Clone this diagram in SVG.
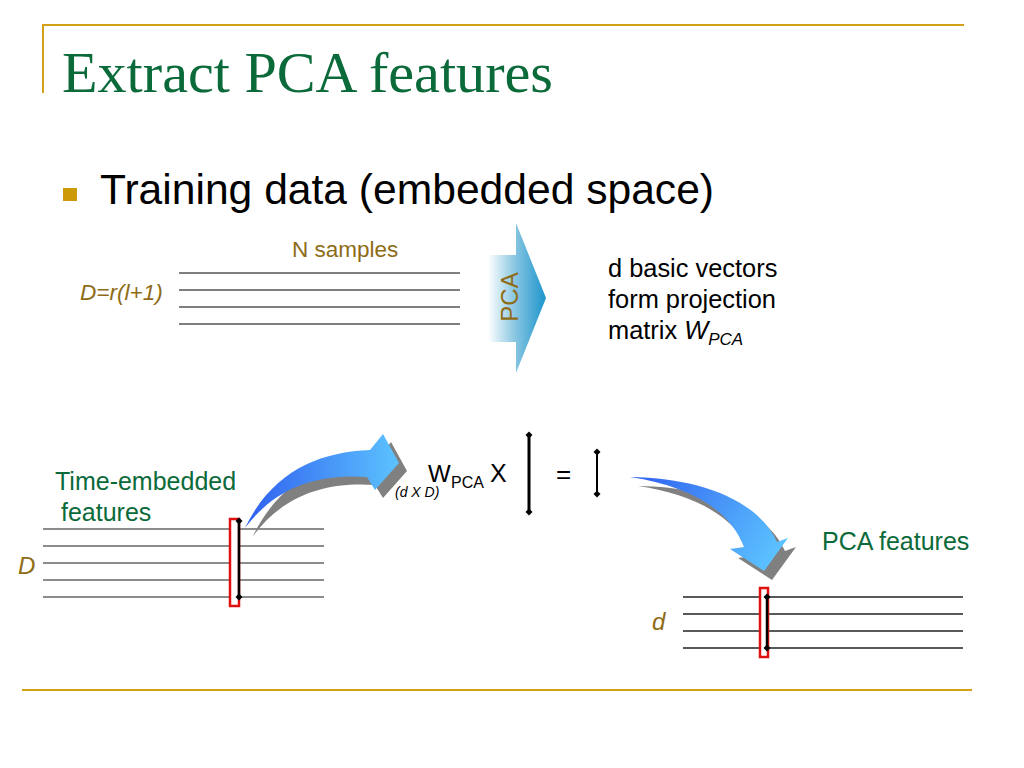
<svg xmlns="http://www.w3.org/2000/svg" width="1024" height="768" viewBox="0 0 1024 768">
<defs>
<style>
.sans{font-family:"Liberation Sans",Arial,sans-serif}
.olive{fill:#8E6C17}
.green{fill:#0B6A3A}
.gold{stroke:#D4A017;stroke-width:2;fill:none}
.ln1{stroke:#555;stroke-width:1.5}
.ln2{stroke:#666;stroke-width:1.5}
.ln3{stroke:#222;stroke-width:1.3}
.vec{stroke:#000;fill:none;marker-start:url(#dia);marker-end:url(#dia)}
.sel{fill:#fff;stroke:#E01010;stroke-width:2.5}
</style>
<marker id="dia" viewBox="-4 -4 8 8" markerWidth="8" markerHeight="8" markerUnits="userSpaceOnUse" orient="0">
<path d="M0 -3.5 L3.5 0 L0 3.5 L-3.5 0 Z" fill="#000"/>
</marker>
<linearGradient id="pcaG" gradientUnits="userSpaceOnUse" x1="488" y1="0" x2="546" y2="0">
<stop offset="0" stop-color="#ffffff"/>
<stop offset="0.45" stop-color="#8cc8e2"/>
<stop offset="1" stop-color="#1c94cc"/>
</linearGradient>
<linearGradient id="blue1" gradientUnits="userSpaceOnUse" x1="245" y1="0" x2="398" y2="0">
<stop offset="0" stop-color="#2F5FEF"/>
<stop offset="1" stop-color="#5CC2FF"/>
</linearGradient>
<linearGradient id="blue2" gradientUnits="userSpaceOnUse" x1="630" y1="477" x2="770" y2="565">
<stop offset="0" stop-color="#2F5FEF"/>
<stop offset="1" stop-color="#5CC2FF"/>
</linearGradient>
</defs>
<rect width="1024" height="768" fill="#fff"/>

<g id="frame">
<line class="gold" x1="42" y1="25" x2="964" y2="25"/>
<line class="gold" x1="43" y1="25" x2="43" y2="93"/>
<line class="gold" x1="22" y1="690" x2="972" y2="690"/>
</g>

<g id="title">
<text x="62" y="92" font-family="'Liberation Serif','Times New Roman',serif" font-size="57" fill="#0B6A3A" textLength="491" lengthAdjust="spacingAndGlyphs">Extract PCA features</text>
</g>

<g id="bullet">
<rect x="63" y="188" width="14" height="13" fill="#CC9A06"/>
<text class="sans" x="100" y="204" font-size="42.6" fill="#000">Training data (embedded space)</text>
</g>

<g id="training-matrix">
<text class="sans olive" x="292" y="257" font-size="22.5">N samples</text>
<text class="sans olive" x="80" y="300" font-size="22.6" font-style="italic">D=r(l+1)</text>
<line class="ln1" x1="179" y1="273" x2="460" y2="273"/>
<line class="ln1" x1="179" y1="290" x2="460" y2="290"/>
<line class="ln1" x1="179" y1="307" x2="460" y2="307"/>
<line class="ln1" x1="179" y1="324" x2="460" y2="324"/>
</g>

<g id="pca-arrow">
<path d="M488 255 L516 255 L516 223 L546 298 L516 373 L516 342 L488 342 Z" fill="url(#pcaG)"/>
<text class="sans olive" x="0" y="0" font-size="24" text-anchor="middle" transform="translate(518 297) rotate(-90)">PCA</text>
</g>

<g id="projection-text">
<text class="sans" x="608" y="277" font-size="25.4" fill="#000">d basic vectors</text>
<text class="sans" x="608" y="308" font-size="25.4" fill="#000">form projection</text>
<text class="sans" x="608" y="339" font-size="25.4" fill="#000">matrix <tspan font-style="italic">W</tspan><tspan font-style="italic" font-size="17" dy="6">PCA</tspan></text>
</g>

<g id="time-embedded">
<text class="sans green" x="55" y="490" font-size="25">Time-embedded</text>
<text class="sans green" x="61" y="521" font-size="25">features</text>
<text class="sans olive" x="18" y="574" font-size="24" font-style="italic">D</text>
<line class="ln2" x1="43" y1="529" x2="324" y2="529"/>
<line class="ln2" x1="43" y1="546" x2="324" y2="546"/>
<line class="ln2" x1="43" y1="563" x2="324" y2="563"/>
<line class="ln2" x1="43" y1="580" x2="324" y2="580"/>
<line class="ln2" x1="43" y1="597" x2="324" y2="597"/>
<rect class="sel" x="230" y="519" width="9" height="87"/>
<line class="vec" x1="239" y1="521" x2="239" y2="597" stroke-width="2.5"/>
</g>

<g id="equation">
<text class="sans" x="395" y="497" font-size="14" font-style="italic" fill="#000">(d X D)</text>
<text class="sans" x="428" y="482" font-size="24" fill="#000">W</text>
<text class="sans" x="451" y="488" font-size="16" fill="#000">PCA</text>
<text class="sans" x="490" y="482" font-size="25" fill="#000">X</text>
<line class="vec" x1="529" y1="435" x2="529" y2="512" stroke-width="3"/>
<text class="sans" x="556" y="483" font-size="26" fill="#000">=</text>
<line class="vec" x1="597" y1="452" x2="597" y2="494" stroke-width="2"/>
</g>

<g id="pca-features">
<text class="sans green" x="822" y="550" font-size="25">PCA features</text>
<text class="sans olive" x="652" y="630" font-size="24" font-style="italic">d</text>
<line class="ln3" x1="683" y1="597" x2="963" y2="597"/>
<line class="ln3" x1="683" y1="614" x2="963" y2="614"/>
<line class="ln3" x1="683" y1="631" x2="963" y2="631"/>
<line class="ln3" x1="683" y1="648" x2="963" y2="648"/>
<rect class="sel" x="760" y="588" width="8" height="69"/>
<line class="vec" x1="767" y1="597" x2="767" y2="648" stroke-width="2.5"/>
</g>

<g id="connectors">
<g id="arrow-in">
<path transform="translate(8 8)" d="M245 528 C272 472 318 452 370 450 L383 434 L399 463 L375 490 L367 477 C322 474 278 484 245 528 Z" fill="#808080"/>
<path d="M245 528 C272 472 318 452 370 450 L383 434 L399 463 L375 490 L367 477 C322 474 278 484 245 528 Z" fill="url(#blue1)"/>
</g>
<g id="arrow-out">
<path transform="translate(8 9)" d="M630 477 C700 478 758 500 777 542 L788 538 L764 571 L730 549 L744 547 C730 510 690 486 630 477 Z" fill="#808080"/>
<path d="M630 477 C700 478 758 500 777 542 L788 538 L764 571 L730 549 L744 547 C730 510 690 486 630 477 Z" fill="url(#blue2)"/>
</g>
</g>
</svg>
